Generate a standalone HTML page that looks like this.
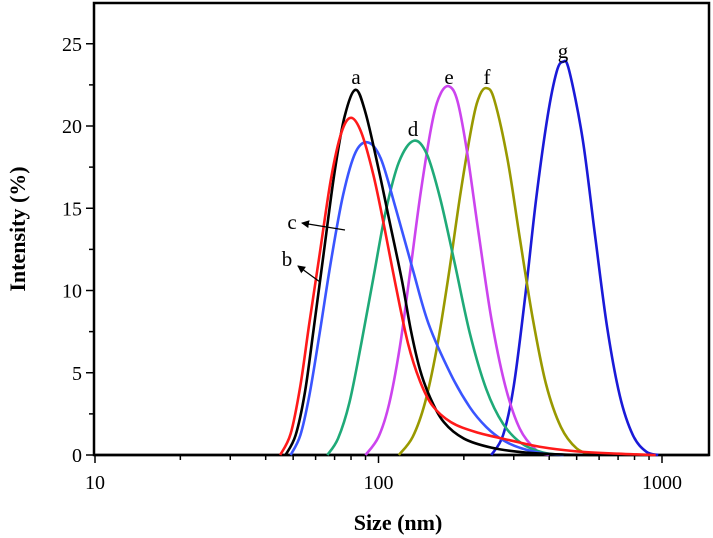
<!DOCTYPE html>
<html><head><meta charset="utf-8"><style>
html,body{margin:0;padding:0;background:#fff;}
svg{display:block;font-family:"Liberation Serif",serif;}
</style></head><body>
<svg id="chart" width="713" height="538" viewBox="0 0 713 538">
<g id="axes"></g>
<g id="series"></g>
<g id="labels"></g>
</svg>
<script>
const xTicks = [10, 100, 1000];
const yTicks = [0, 5, 10, 15, 20, 25];
const seriesNames = ["a","b","c","d","e","f","g"];
const seriesColors = ["#000000","#ff1a1a","#3a55ff","#1faa78","#cc44ee","#999900","#1a1ad8"];
const sizesA = [47,51,55,59,64,70,76,83,90,100,110,121,130,140,152,170,200,250,330,450,600];
const valuesA = [0,1.2,3.8,7.6,12.2,17.2,20.6,22.2,20.8,17.4,14.0,10.6,7.6,5.2,3.5,2.0,1.0,0.45,0.15,0.03,0];
const sizesB = [45,49,53,57,62,68,74,80,87,96,105,115,127,140,155,180,220,290,370,500,700,950];
const valuesB = [0,1.3,4.2,8.0,12.2,16.8,19.6,20.5,19.6,17.0,13.8,10.3,6.8,4.5,3.0,2.0,1.4,0.9,0.5,0.22,0.08,0];
const sizesC = [49,53,57,62,68,75,83,92,102,115,132,150,180,210,240,275,320,380,450];
const valuesC = [0,1.2,3.6,7.4,11.8,15.8,18.4,19.0,18.0,15.0,11.3,8.0,4.9,2.9,1.7,0.9,0.4,0.1,0];
const sizesD = [66,72,79,87,96,106,118,133,148,165,186,210,240,275,320,380,450];
const valuesD = [0,1.0,3.2,6.8,10.8,14.8,17.8,19.1,18.3,15.6,11.6,7.4,4.0,1.9,0.7,0.15,0];
const sizesE = [90,100,109,119,129,141,155,166,178,190,205,225,250,280,315,360,400];
const valuesE = [0,1.1,3.1,6.6,11.0,16.0,20.3,22.0,22.4,21.5,18.5,13.6,8.3,4.2,1.6,0.3,0];
const sizesF = [118,132,146,161,177,195,215,228,241,256,285,315,350,390,440,500,570];
const valuesF = [0,1.1,3.2,6.6,11.0,16.0,20.3,21.9,22.3,21.6,18.0,13.2,8.3,4.3,1.7,0.4,0];
const sizesG = [250,275,300,330,360,395,425,447,470,525,580,640,710,790,880,970];
const valuesG = [0,1.2,4.2,9.8,15.6,20.6,23.3,23.9,23.4,19.2,13.4,7.8,3.6,1.2,0.2,0];

const NS="http://www.w3.org/2000/svg";
const L=94,R=709,T=3,B=455;
function xs(v){return 95+(Math.log10(v)-1)*283.5;}
function ys(v){return 455-v*16.45;}
function mk(tag,attrs,parent){const e=document.createElementNS(NS,tag);for(const k in attrs)e.setAttribute(k,attrs[k]);parent.appendChild(e);return e;}

const axes=document.getElementById('axes');
const frame=mk('rect',{x:L,y:T,width:R-L,height:B-T,fill:'none',stroke:'#000','stroke-width':2.5},axes);



yTicks.forEach(t=>{
  const y=ys(t);
  const tk=mk('line',{x1:L-8,x2:L,y1:y,y2:y,stroke:'#000','stroke-width':1.5},axes);
  
  
  const lb=mk('text',{x:L-12,y:y+7,'text-anchor':'end','font-size':20},axes);
  lb.textContent=t;
  
  
  if(t<25){
    const ym=ys(t+2.5);
    const mt=mk('line',{x1:L-5,x2:L,y1:ym,y2:ym,stroke:'#000','stroke-width':1.5},axes);
    
    
  }
});
xTicks.forEach(t=>{
  const x=xs(t);
  const tk=mk('line',{x1:x,x2:x,y1:B,y2:B+8,stroke:'#000','stroke-width':1.5},axes);
  
  
  const lb=mk('text',{x:x,y:B+34,'text-anchor':'middle','font-size':20},axes);
  lb.textContent=t;
  
  
  for(let k=2;k<=9;k++){
    const xm=xs(t*k);
    if(xm>R)break;
    const mt=mk('line',{x1:xm,x2:xm,y1:B,y2:B+5,stroke:'#000','stroke-width':1.5},axes);
    
    
  }
});
const xt=mk('text',{x:398,y:530,'text-anchor':'middle','font-size':22,'font-weight':'bold'},axes);
xt.textContent='Size (nm)';


const yt=mk('text',{x:0,y:0,'text-anchor':'middle','font-size':22,'font-weight':'bold',transform:'translate(25,229) rotate(-90)'},axes);
yt.textContent='Intensity (%)';



function crPath(px,py){
  const n=px.length;
  let p='M'+px[0].toFixed(2)+','+py[0].toFixed(2);
  for(let i=0;i<n-1;i++){
    const x0=i>0?px[i-1]:px[i],y0=i>0?py[i-1]:py[i];
    const x3=i<n-2?px[i+2]:px[i+1],y3=i<n-2?py[i+2]:py[i+1];
    const c1x=px[i]+(px[i+1]-x0)/6,c1y=Math.min(B,py[i]+(py[i+1]-y0)/6);
    const c2x=px[i+1]-(x3-px[i])/6,c2y=Math.min(B,py[i+1]-(y3-py[i])/6);
    p+=' C'+c1x.toFixed(2)+','+c1y.toFixed(2)+' '+c2x.toFixed(2)+','+c2y.toFixed(2)+' '+px[i+1].toFixed(2)+','+py[i+1].toFixed(2);
  }
  return p;
}
const allSizes=[sizesA,sizesB,sizesC,sizesD,sizesE,sizesF,sizesG];
const allValues=[valuesA,valuesB,valuesC,valuesD,valuesE,valuesF,valuesG];
const sg=document.getElementById('series');
const base=mk('line',{x1:L,x2:R,y1:ys(0),y2:ys(0),stroke:'#000','stroke-width':2.5},sg);


const order=[6,5,4,3,2,0,1];
order.forEach(i=>{
  const px=allSizes[i].map(xs),py=allValues[i].map(ys);
  const path=mk('path',{d:crPath(px,py),fill:'none',stroke:seriesColors[i],'stroke-width':2.6,'stroke-linejoin':'round'},sg);
  
  
});

const lg=document.getElementById('labels');
const labelPos={a:[356,84],b:[287,266],c:[292,229],d:[413,136],e:[449,84],f:[487,84],g:[563,58]};
seriesNames.forEach(n=>{
  const p=labelPos[n];
  const t=mk('text',{x:p[0],y:p[1],'text-anchor':'middle','font-size':21},lg);
  t.textContent=n;
  
  
});
const defs=mk('defs',{},lg);
const mkr=mk('marker',{id:'ah',markerWidth:8,markerHeight:8,refX:7,refY:4,orient:'auto',markerUnits:'userSpaceOnUse'},defs);
mk('path',{d:'M0,0 L8,4 L0,8 Z',fill:'#000'},mkr);
const ac=mk('line',{x1:345,y1:230,x2:302,y2:223,stroke:'#000','stroke-width':1.3,'marker-end':'url(#ah)'},lg);


const ab=mk('line',{x1:320,y1:282,x2:298,y2:266,stroke:'#000','stroke-width':1.3,'marker-end':'url(#ah)'},lg);


</script>
</body></html>
